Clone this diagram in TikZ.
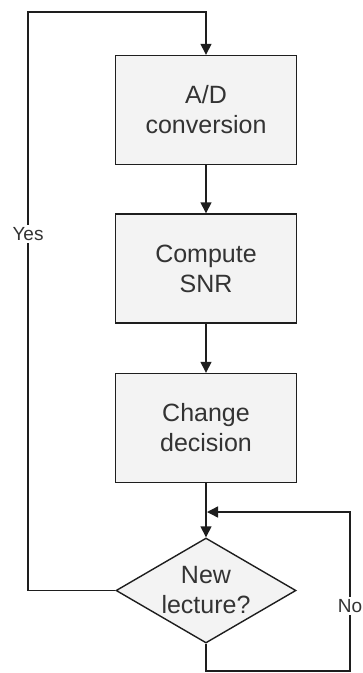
\documentclass[tikz,border=0pt]{standalone}
\usepackage{fontspec}
\setmainfont{Liberation Sans}
\usetikzlibrary{shapes.geometric,arrows.meta}
\definecolor{linec}{HTML}{1E1E1E}
\definecolor{boxfill}{HTML}{F3F3F3}
\definecolor{textc}{HTML}{333333}
\tikzset{
  flowline/.style={draw=linec, line width=1.4pt},
  flowarrow/.style={flowline, -{Triangle[length=11pt,width=11pt]}},
  stepbox/.style={rectangle, draw=linec, line width=1.4pt, fill=boxfill,
    minimum width=181pt, minimum height=109pt, inner sep=0pt,
    align=center, text=textc, font=\fontsize{25}{30}\selectfont},
  decbox/.style={diamond, draw=linec, line width=1.4pt, fill=boxfill,
    minimum width=180pt, minimum height=105pt, inner sep=0pt},
  decbtext/.style={align=center, text=textc, font=\fontsize{25}{30}\selectfont, inner sep=0pt},
  edgelbl/.style={fill=white, text=textc, font=\fontsize{19}{22}\selectfont, inner sep=2pt}
}
\begin{document}
\begin{tikzpicture}[x=1pt,y=-1pt]
  \useasboundingbox (0,0) rectangle (362,673);
  % process steps
  \node[stepbox] (adc) at (206,110) {A/D\\conversion};
  \node[stepbox] (snr) at (206,268.5) {Compute\\SNR};
  \node[stepbox] (chg) at (206,428) {Change\\decision};
  \node[decbox] (dec) at (206,590.5) {};
  \node[decbtext] (dectext) at (dec.center) {New\\lecture?};
  % loop corners
  \coordinate (ytop) at (28,12);
  \coordinate (nright) at (350,512);
  \coordinate (nbot) at (350,671);
  % main flow
  \draw[flowarrow] (adc.south) -- (snr.north);
  \draw[flowarrow] (snr.south) -- (chg.north);
  \draw[flowarrow] (chg.south) -- (dec.north);
  % "Yes" branch back to the start
  \draw[flowarrow] (dec.west) -- (dec.west -| ytop) -- (ytop) -- (ytop -| adc.north) -- (adc.north);
  % "No" branch back into the decision
  \draw[flowarrow] (dec.south) -- (dec.south |- nbot) -- (nbot) -- (nright) -- ([xshift=1pt]chg.south |- nright);
  % branch labels
  \node[edgelbl] (yes) at (28,234) {Yes};
  \node[edgelbl] (no) at (350,606) {No};
\end{tikzpicture}
\end{document}
